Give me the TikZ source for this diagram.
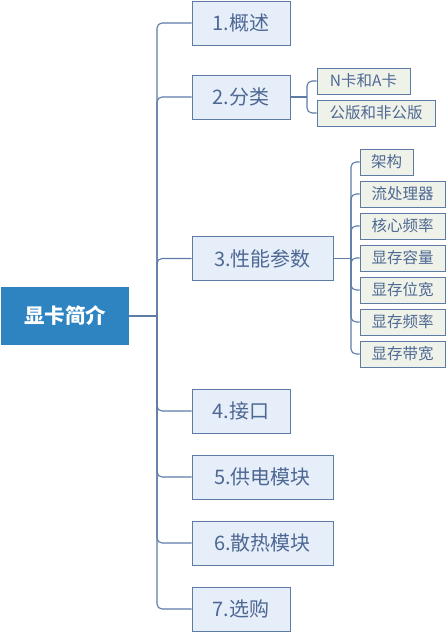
\documentclass[tikz,border=0pt]{standalone}
\usepackage{fontspec}
\newfontfamily\cjk{Noto Sans CJK SC}
\definecolor{rootblue}{RGB}{46,132,193}
\definecolor{linkblue}{RGB}{92,123,165}
\definecolor{topicfill}{RGB}{230,238,249}
\definecolor{subfill}{RGB}{239,242,232}
\definecolor{topictext}{RGB}{78,104,148}

\begin{document}
\begin{tikzpicture}[x=1pt,y=-1pt,
		topic/.style={draw=linkblue, fill=topicfill, text=topictext, line width=1pt, minimum height=44pt, inner sep=0pt, font=\cjk\fontsize{20}{24}\selectfont},
		subtopic/.style={draw=linkblue, fill=subfill, text=topictext, line width=1pt, minimum height=26pt, inner sep=0pt, font=\cjk\fontsize{15.5}{18}\selectfont},
		link/.style={draw=linkblue, line width=1.1pt, rounded corners=5pt}]
	\useasboundingbox (0,0) rectangle (446,632);
	% root
	\node[fill=rootblue, text=white, minimum width=128pt, minimum height=58pt, inner sep=0pt, font=\cjk\bfseries\fontsize{20.5}{24}\selectfont] (root) at (65,316) {显卡简介};
	% first level
	\node[topic, minimum width=98pt] (gaishu) at (241,23) {1.概述};
	\node[topic, minimum width=98pt] (fenlei) at (241,97) {2.分类};
	\node[topic, minimum width=141pt] (canshu) at (262.5,258.5) {3.性能参数};
	\node[topic, minimum width=98pt] (jiekou) at (241,411) {4.接口};
	\node[topic, minimum width=141pt] (gongdian) at (262.5,477) {5.供电模块};
	\node[topic, minimum width=141pt] (sanre) at (262.5,543) {6.散热模块};
	\node[topic, minimum width=98pt] (xuangou) at (241,609) {7.选购};
	% second level
	\node[subtopic, minimum width=93pt] (nka) at (363.5,81) {N卡和A卡};
	\node[subtopic, minimum width=118pt] (gongban) at (376,113) {公版和非公版};
	\node[subtopic, minimum width=53pt] (jiagou) at (386.5,162) {架构};
	\node[subtopic, minimum width=85pt] (liu) at (402.5,194) {流处理器};
	\node[subtopic, minimum width=85pt] (hexin) at (402.5,226) {核心频率};
	\node[subtopic, minimum width=85pt] (rongliang) at (402.5,258) {显存容量};
	\node[subtopic, minimum width=85pt] (weikuan) at (402.5,290) {显存位宽};
	\node[subtopic, minimum width=85pt] (pinlv) at (402.5,322) {显存频率};
	\node[subtopic, minimum width=85pt] (daikuan) at (402.5,354) {显存带宽};
	% connectors
	\coordinate (trunk) at (157,316);
	\coordinate (fork2) at (307,97);
	\coordinate (fork3) at (351,258.5);
	\draw[link] (root.east) -- (trunk);
	\foreach \n in {gaishu,fenlei,canshu,jiekou,gongdian,sanre,xuangou}
		\draw[link] (trunk) |- (\n.west);
	\draw[link] (fenlei.east) -- (fork2);
	\foreach \n in {nka,gongban}
		\draw[link] (fork2) |- (\n.west);
	\draw[link] (canshu.east) -- (fork3);
	\foreach \n in {jiagou,liu,hexin,rongliang,weikuan,pinlv,daikuan}
		\draw[link] (fork3) |- (\n.west);
\end{tikzpicture}
\end{document}
